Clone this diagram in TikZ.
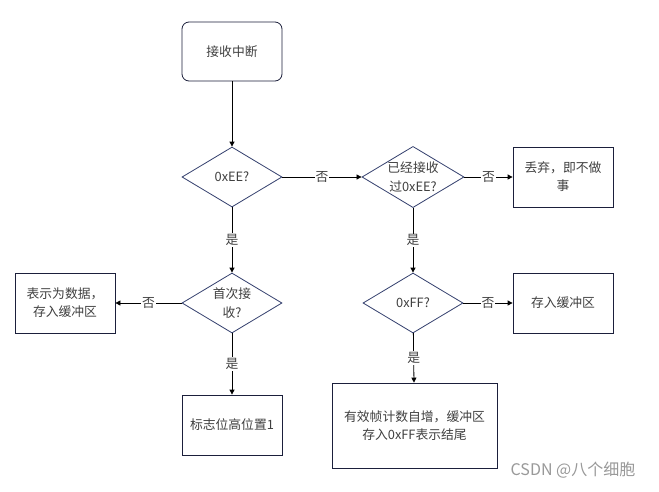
\documentclass[tikz,border=0pt]{standalone}
\usepackage{fontspec}
\setmainfont{Noto Sans CJK SC}
\usetikzlibrary{shapes.geometric,arrows.meta}

\definecolor{boxline}{HTML}{1B1F3B}
\definecolor{dialine}{HTML}{34406E}
\definecolor{txt}{HTML}{404040}

\tikzset{
  proc/.style={draw=boxline,line width=0.8pt,minimum width=100pt,minimum height=60pt,
    text=txt,align=center,inner sep=2pt,font=\fontsize{12.8}{18}\selectfont},
  decide/.style={draw=dialine,line width=0.8pt,diamond,aspect=1.667,inner sep=0pt,
    minimum width=100pt,minimum height=60pt,text=txt,align=center,
    font=\fontsize{12.8}{19}\selectfont},
  flow/.style={-{Triangle[length=5pt,width=5pt]},line width=0.8pt},
  yesno/.style={fill=white,text=txt,inner sep=1pt,font=\fontsize{12.8}{14}\selectfont}
}

\begin{document}
\begin{tikzpicture}[x=1pt,y=-1pt]
      \useasboundingbox[fill=white] (0,0) rectangle (659,491);
      % nodes
      \node[proc,rounded corners=7pt,minimum height=59pt] (irq) at (232,51.5) {接收中断};
      \node[decide] (isEE) at (232,177) {0xEE?};
      \node[decide] (gotEE) at (413,177) {已经接收\\过0xEE?};
      \node[proc] (drop) at (563,177) {丢弃，即不做\\事};
      \node[decide] (first) at (232,303) {首次接\\收?};
      \node[proc] (store) at (65,303) {表示为数据，\\存入缓冲区};
      \node[decide] (isFF) at (413,303) {0xFF?};
      \node[proc] (buf) at (563,303) {存入缓冲区};
      \node[proc] (flag) at (232,425) {标志位高位置1};
      \node[proc,minimum width=165pt,minimum height=85pt] (done) at (414.5,425.5)
        {有效帧计数自增，缓冲区\\存入0xFF表示结尾};
      % connectors
      \draw[flow] (irq) -- (isEE);
      \draw[flow] (isEE) -- node[yesno] {否} (gotEE);
      \draw[flow] (gotEE) -- node[yesno] {否} (drop);
      \draw[flow] (isEE) -- node[yesno] {是} (first);
      \draw[flow] (first) -- node[yesno] {否} (store);
      \draw[flow] (first) -- node[yesno] {是} (flag);
      \draw[flow] (gotEE) -- node[yesno] {是} (isFF);
      \draw[flow] (isFF) -- node[yesno] {否} (buf);
      \draw[flow] (isFF) -- node[yesno] {是} (done);
      % watermark
      \node[text=black!40,font=\fontsize{16}{18}\selectfont] (mark) at (573,470) {CSDN @八个细胞};
    \end{tikzpicture}
\end{document}
